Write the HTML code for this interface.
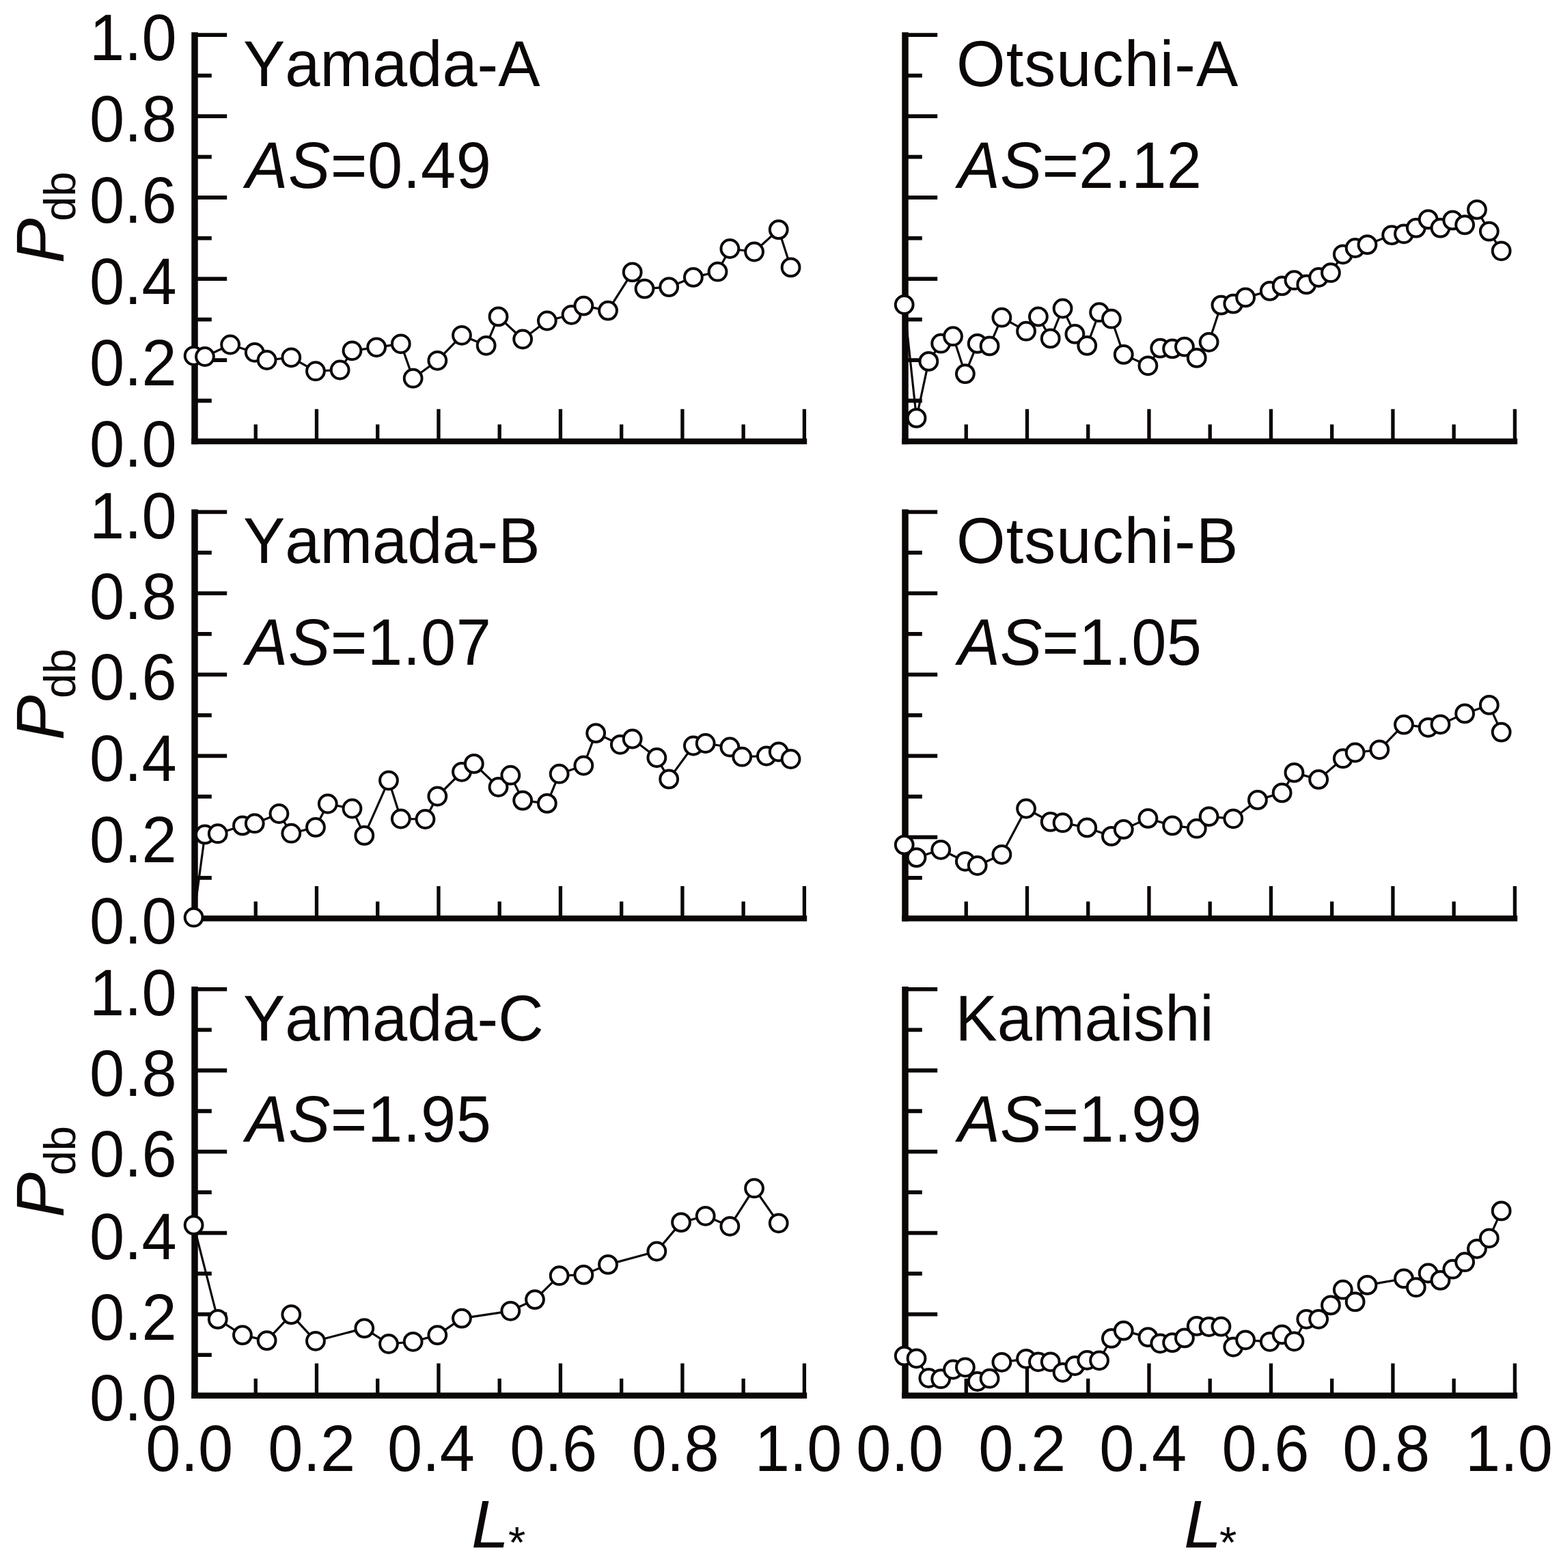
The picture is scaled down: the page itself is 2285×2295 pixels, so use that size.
<!DOCTYPE html>
<html lang="en"><head><meta charset="utf-8"><title>Pdb vs L*</title>
<style>html,body{margin:0;padding:0;background:#fff;width:2285px;height:2295px;overflow:hidden}svg{display:block;filter:blur(0.7px)}text{font-family:"Liberation Sans",sans-serif;fill:#0b0706;font-kerning:none;text-rendering:geometricPrecision}.t{font-size:92px}.i{font-style:italic}.s{font-size:65px}.ax{stroke:#0b0706;stroke-width:9.5;fill:none;stroke-linecap:butt;stroke-linejoin:miter}.ah{stroke-width:8.6}.tk{stroke:#0b0706;stroke-width:5.8;fill:none}.tx{stroke-width:5.3}.ln{stroke:#0b0706;stroke-width:3.2;fill:none;stroke-linejoin:round}.pt circle{fill:#fff;stroke:#0b0706;stroke-width:4.0}</style></head><body>
<svg width="2285" height="2295" viewBox="0 0 2285 2295">
<rect width="2285" height="2295" fill="#fff"/>
<g>
<path class="tk" d="M285 586.52h24.8M285 527.04h47.2M285 467.56h24.8M285 408.08h47.2M285 348.6h24.8M285 289.12h47.2M285 229.64h24.8M285 170.16h47.2M285 110.68h24.8M285 51.2h47.2"/>
<path class="tk tx" d="M374.24 646v-24.8M463.48 646v-47.2M552.72 646v-24.8M641.96 646v-47.2M731.2 646v-24.8M820.44 646v-47.2M909.68 646v-24.8M998.92 646v-47.2M1088.16 646v-24.8M1177.4 646v-47.2"/>
<path class="ax" d="M285 47.3V650.3"/><path class="ax ah" d="M280.25 646H1181.2"/>
<polyline class="ln" points="283.6,520.8 299.94,522 337.11,504.5 372.78,515.8 390.62,527 426.29,523.3 461.96,543.2 497.63,541.5 515.47,513.3 551.14,508.3 586.81,503.3 604.65,553.7 640.32,527.8 675.99,490.8 711.66,505.8 729.5,463.4 765.17,496.5 800.84,469.5 836.52,460.8 854.35,447.6 890.02,454.6 925.7,398.4 943.53,422.6 979.2,420.1 1014.88,405.9 1050.55,397.7 1068.38,364 1104.06,368.5 1139.73,336.1 1157.56,391.4"/>
<g class="pt"><circle cx="283.6" cy="520.8" r="12.9"/><circle cx="299.94" cy="522" r="12.9"/><circle cx="337.11" cy="504.5" r="12.9"/><circle cx="372.78" cy="515.8" r="12.9"/><circle cx="390.62" cy="527" r="12.9"/><circle cx="426.29" cy="523.3" r="12.9"/><circle cx="461.96" cy="543.2" r="12.9"/><circle cx="497.63" cy="541.5" r="12.9"/><circle cx="515.47" cy="513.3" r="12.9"/><circle cx="551.14" cy="508.3" r="12.9"/><circle cx="586.81" cy="503.3" r="12.9"/><circle cx="604.65" cy="553.7" r="12.9"/><circle cx="640.32" cy="527.8" r="12.9"/><circle cx="675.99" cy="490.8" r="12.9"/><circle cx="711.66" cy="505.8" r="12.9"/><circle cx="729.5" cy="463.4" r="12.9"/><circle cx="765.17" cy="496.5" r="12.9"/><circle cx="800.84" cy="469.5" r="12.9"/><circle cx="836.52" cy="460.8" r="12.9"/><circle cx="854.35" cy="447.6" r="12.9"/><circle cx="890.02" cy="454.6" r="12.9"/><circle cx="925.7" cy="398.4" r="12.9"/><circle cx="943.53" cy="422.6" r="12.9"/><circle cx="979.2" cy="420.1" r="12.9"/><circle cx="1014.88" cy="405.9" r="12.9"/><circle cx="1050.55" cy="397.7" r="12.9"/><circle cx="1068.38" cy="364" r="12.9"/><circle cx="1104.06" cy="368.5" r="12.9"/><circle cx="1139.73" cy="336.1" r="12.9"/><circle cx="1157.56" cy="391.4" r="12.9"/></g>
<text class="t" transform="matrix(1 0 0 1.03 355.9 126.1)">Yamada-A</text>
<text class="t" letter-spacing="0.55" transform="matrix(1 0 0 1.045 360 274.8)"><tspan class="i">AS</tspan>=0.49</text>
<text class="t" text-anchor="end" transform="matrix(1 0 0 1.045 258.8 682.5)">0.0</text>
<text class="t" text-anchor="end" transform="matrix(1 0 0 1.045 258.8 563.54)">0.2</text>
<text class="t" text-anchor="end" transform="matrix(1 0 0 1.045 258.8 444.58)">0.4</text>
<text class="t" text-anchor="end" transform="matrix(1 0 0 1.045 258.8 325.62)">0.6</text>
<text class="t" text-anchor="end" transform="matrix(1 0 0 1.045 258.8 206.66)">0.8</text>
<text class="t" text-anchor="end" transform="matrix(1 0 0 1.045 258.8 87.7)">1.0</text>
<text class="t" transform="translate(93 385.4) rotate(-90)"><tspan class="i" font-size="99">P</tspan><tspan class="s" dx="-4.4" dy="17">db</tspan></text>
</g>
<g>
<path class="tk" d="M1325 586.52h24.8M1325 527.04h47.2M1325 467.56h24.8M1325 408.08h47.2M1325 348.6h24.8M1325 289.12h47.2M1325 229.64h24.8M1325 170.16h47.2M1325 110.68h24.8M1325 51.2h47.2"/>
<path class="tk tx" d="M1414.24 646v-24.8M1503.48 646v-47.2M1592.72 646v-24.8M1681.96 646v-47.2M1771.2 646v-24.8M1860.44 646v-47.2M1949.68 646v-24.8M2038.92 646v-47.2M2128.16 646v-24.8M2217.4 646v-47.2"/>
<path class="ax" d="M1325 47.3V650.3"/><path class="ax ah" d="M1320.25 646H2221.2"/>
<polyline class="ln" points="1323.7,446 1341.54,611.9 1359.37,528.9 1377.21,502.7 1395.04,492.2 1412.88,547.1 1430.72,502.9 1448.55,506.4 1466.39,464.7 1502.06,484.7 1519.9,463.5 1537.73,495.4 1555.57,451.5 1573.4,488.9 1591.24,505.9 1609.08,457.2 1626.91,466.7 1644.75,518.9 1680.42,535.3 1698.26,509.6 1716.09,510.4 1733.93,507.6 1751.76,523.9 1769.6,500.8 1787.44,446.6 1805.27,444.6 1823.11,435.4 1858.78,425.9 1876.62,418.4 1894.45,410.2 1912.29,416.4 1930.12,406 1947.96,399.2 1965.8,372.3 1983.63,363 2001.47,358.1 2037.14,344.1 2054.98,342.3 2072.81,333.6 2090.65,321.1 2108.48,333.6 2126.32,322.4 2144.16,329.1 2161.99,306.9 2179.83,338.6 2197.66,367.3"/>
<g class="pt"><circle cx="1323.7" cy="446" r="12.9"/><circle cx="1341.54" cy="611.9" r="12.9"/><circle cx="1359.37" cy="528.9" r="12.9"/><circle cx="1377.21" cy="502.7" r="12.9"/><circle cx="1395.04" cy="492.2" r="12.9"/><circle cx="1412.88" cy="547.1" r="12.9"/><circle cx="1430.72" cy="502.9" r="12.9"/><circle cx="1448.55" cy="506.4" r="12.9"/><circle cx="1466.39" cy="464.7" r="12.9"/><circle cx="1502.06" cy="484.7" r="12.9"/><circle cx="1519.9" cy="463.5" r="12.9"/><circle cx="1537.73" cy="495.4" r="12.9"/><circle cx="1555.57" cy="451.5" r="12.9"/><circle cx="1573.4" cy="488.9" r="12.9"/><circle cx="1591.24" cy="505.9" r="12.9"/><circle cx="1609.08" cy="457.2" r="12.9"/><circle cx="1626.91" cy="466.7" r="12.9"/><circle cx="1644.75" cy="518.9" r="12.9"/><circle cx="1680.42" cy="535.3" r="12.9"/><circle cx="1698.26" cy="509.6" r="12.9"/><circle cx="1716.09" cy="510.4" r="12.9"/><circle cx="1733.93" cy="507.6" r="12.9"/><circle cx="1751.76" cy="523.9" r="12.9"/><circle cx="1769.6" cy="500.8" r="12.9"/><circle cx="1787.44" cy="446.6" r="12.9"/><circle cx="1805.27" cy="444.6" r="12.9"/><circle cx="1823.11" cy="435.4" r="12.9"/><circle cx="1858.78" cy="425.9" r="12.9"/><circle cx="1876.62" cy="418.4" r="12.9"/><circle cx="1894.45" cy="410.2" r="12.9"/><circle cx="1912.29" cy="416.4" r="12.9"/><circle cx="1930.12" cy="406" r="12.9"/><circle cx="1947.96" cy="399.2" r="12.9"/><circle cx="1965.8" cy="372.3" r="12.9"/><circle cx="1983.63" cy="363" r="12.9"/><circle cx="2001.47" cy="358.1" r="12.9"/><circle cx="2037.14" cy="344.1" r="12.9"/><circle cx="2054.98" cy="342.3" r="12.9"/><circle cx="2072.81" cy="333.6" r="12.9"/><circle cx="2090.65" cy="321.1" r="12.9"/><circle cx="2108.48" cy="333.6" r="12.9"/><circle cx="2126.32" cy="322.4" r="12.9"/><circle cx="2144.16" cy="329.1" r="12.9"/><circle cx="2161.99" cy="306.9" r="12.9"/><circle cx="2179.83" cy="338.6" r="12.9"/><circle cx="2197.66" cy="367.3" r="12.9"/></g>
<text class="t" letter-spacing="1.05" transform="matrix(1 0 0 1.03 1400.1 126.1)">Otsuchi-A</text>
<text class="t" letter-spacing="0.13" transform="matrix(1 0 0 1.045 1402.5 274.8)"><tspan class="i">AS</tspan>=2.12</text>
</g>
<g>
<path class="tk" d="M285 1284.81h24.8M285 1225.32h47.2M285 1165.83h24.8M285 1106.34h47.2M285 1046.85h24.8M285 987.36h47.2M285 927.87h24.8M285 868.38h47.2M285 808.89h24.8M285 749.4h47.2"/>
<path class="tk tx" d="M374.24 1344.3v-24.8M463.48 1344.3v-47.2M552.72 1344.3v-24.8M641.96 1344.3v-47.2M731.2 1344.3v-24.8M820.44 1344.3v-47.2M909.68 1344.3v-24.8M998.92 1344.3v-47.2M1088.16 1344.3v-24.8M1177.4 1344.3v-47.2"/>
<path class="ax" d="M285 745.5V1348.6"/><path class="ax ah" d="M280.25 1344.3H1181.2"/>
<polyline class="ln" points="283.6,1342.7 299.94,1221.4 318.77,1220.2 354.94,1208.4 372.78,1205.2 408.45,1191 426.29,1219.7 461.96,1210.9 479.8,1176.5 515.47,1183.5 533.3,1222.9 568.98,1142.3 586.81,1198.5 622.48,1199 640.32,1165.5 675.99,1129.8 693.83,1117.9 729.5,1152 747.34,1134.7 765.17,1171.6 800.84,1175.9 818.68,1132.7 854.35,1120.5 872.19,1073.1 907.86,1089.8 925.7,1081.5 961.37,1109 979.2,1140.4 1014.88,1091.5 1032.71,1088 1068.38,1093.5 1086.22,1107.7 1121.89,1106.5 1139.73,1100.5 1157.56,1111"/>
<g class="pt"><circle cx="283.6" cy="1342.7" r="12.9"/><circle cx="299.94" cy="1221.4" r="12.9"/><circle cx="318.77" cy="1220.2" r="12.9"/><circle cx="354.94" cy="1208.4" r="12.9"/><circle cx="372.78" cy="1205.2" r="12.9"/><circle cx="408.45" cy="1191" r="12.9"/><circle cx="426.29" cy="1219.7" r="12.9"/><circle cx="461.96" cy="1210.9" r="12.9"/><circle cx="479.8" cy="1176.5" r="12.9"/><circle cx="515.47" cy="1183.5" r="12.9"/><circle cx="533.3" cy="1222.9" r="12.9"/><circle cx="568.98" cy="1142.3" r="12.9"/><circle cx="586.81" cy="1198.5" r="12.9"/><circle cx="622.48" cy="1199" r="12.9"/><circle cx="640.32" cy="1165.5" r="12.9"/><circle cx="675.99" cy="1129.8" r="12.9"/><circle cx="693.83" cy="1117.9" r="12.9"/><circle cx="729.5" cy="1152" r="12.9"/><circle cx="747.34" cy="1134.7" r="12.9"/><circle cx="765.17" cy="1171.6" r="12.9"/><circle cx="800.84" cy="1175.9" r="12.9"/><circle cx="818.68" cy="1132.7" r="12.9"/><circle cx="854.35" cy="1120.5" r="12.9"/><circle cx="872.19" cy="1073.1" r="12.9"/><circle cx="907.86" cy="1089.8" r="12.9"/><circle cx="925.7" cy="1081.5" r="12.9"/><circle cx="961.37" cy="1109" r="12.9"/><circle cx="979.2" cy="1140.4" r="12.9"/><circle cx="1014.88" cy="1091.5" r="12.9"/><circle cx="1032.71" cy="1088" r="12.9"/><circle cx="1068.38" cy="1093.5" r="12.9"/><circle cx="1086.22" cy="1107.7" r="12.9"/><circle cx="1121.89" cy="1106.5" r="12.9"/><circle cx="1139.73" cy="1100.5" r="12.9"/><circle cx="1157.56" cy="1111" r="12.9"/></g>
<text class="t" transform="matrix(1 0 0 1.03 355.9 824.3)">Yamada-B</text>
<text class="t" letter-spacing="0.55" transform="matrix(1 0 0 1.045 360 973)"><tspan class="i">AS</tspan>=1.07</text>
<text class="t" text-anchor="end" transform="matrix(1 0 0 1.045 258.8 1380.8)">0.0</text>
<text class="t" text-anchor="end" transform="matrix(1 0 0 1.045 258.8 1261.82)">0.2</text>
<text class="t" text-anchor="end" transform="matrix(1 0 0 1.045 258.8 1142.84)">0.4</text>
<text class="t" text-anchor="end" transform="matrix(1 0 0 1.045 258.8 1024.46)">0.6</text>
<text class="t" text-anchor="end" transform="matrix(1 0 0 1.045 258.8 906.08)">0.8</text>
<text class="t" text-anchor="end" transform="matrix(1 0 0 1.045 258.8 787.7)">1.0</text>
<text class="t" transform="translate(93 1083.6) rotate(-90)"><tspan class="i" font-size="99">P</tspan><tspan class="s" dx="-4.4" dy="17">db</tspan></text>
</g>
<g>
<path class="tk" d="M1325 1284.81h24.8M1325 1225.32h47.2M1325 1165.83h24.8M1325 1106.34h47.2M1325 1046.85h24.8M1325 987.36h47.2M1325 927.87h24.8M1325 868.38h47.2M1325 808.89h24.8M1325 749.4h47.2"/>
<path class="tk tx" d="M1414.24 1344.3v-24.8M1503.48 1344.3v-47.2M1592.72 1344.3v-24.8M1681.96 1344.3v-47.2M1771.2 1344.3v-24.8M1860.44 1344.3v-47.2M1949.68 1344.3v-24.8M2038.92 1344.3v-47.2M2128.16 1344.3v-24.8M2217.4 1344.3v-47.2"/>
<path class="ax" d="M1325 745.5V1348.6"/><path class="ax ah" d="M1320.25 1344.3H2221.2"/>
<polyline class="ln" points="1323.7,1236.6 1341.54,1255.1 1377.21,1243.8 1412.88,1260.8 1430.72,1267 1466.39,1250.8 1502.06,1183.5 1537.73,1202.9 1555.57,1204.2 1591.24,1211.4 1626.91,1223.9 1644.75,1213.9 1680.42,1197.9 1716.09,1208.4 1751.76,1212.7 1769.6,1195.1 1805.27,1198.3 1840.94,1170.9 1876.62,1160.4 1894.45,1130.9 1930.12,1140.9 1965.8,1110.2 1983.63,1101.5 2019.3,1097.3 2054.98,1060.6 2090.65,1064.8 2108.48,1060.3 2144.16,1044.4 2179.83,1031.9 2197.66,1071.6"/>
<g class="pt"><circle cx="1323.7" cy="1236.6" r="12.9"/><circle cx="1341.54" cy="1255.1" r="12.9"/><circle cx="1377.21" cy="1243.8" r="12.9"/><circle cx="1412.88" cy="1260.8" r="12.9"/><circle cx="1430.72" cy="1267" r="12.9"/><circle cx="1466.39" cy="1250.8" r="12.9"/><circle cx="1502.06" cy="1183.5" r="12.9"/><circle cx="1537.73" cy="1202.9" r="12.9"/><circle cx="1555.57" cy="1204.2" r="12.9"/><circle cx="1591.24" cy="1211.4" r="12.9"/><circle cx="1626.91" cy="1223.9" r="12.9"/><circle cx="1644.75" cy="1213.9" r="12.9"/><circle cx="1680.42" cy="1197.9" r="12.9"/><circle cx="1716.09" cy="1208.4" r="12.9"/><circle cx="1751.76" cy="1212.7" r="12.9"/><circle cx="1769.6" cy="1195.1" r="12.9"/><circle cx="1805.27" cy="1198.3" r="12.9"/><circle cx="1840.94" cy="1170.9" r="12.9"/><circle cx="1876.62" cy="1160.4" r="12.9"/><circle cx="1894.45" cy="1130.9" r="12.9"/><circle cx="1930.12" cy="1140.9" r="12.9"/><circle cx="1965.8" cy="1110.2" r="12.9"/><circle cx="1983.63" cy="1101.5" r="12.9"/><circle cx="2019.3" cy="1097.3" r="12.9"/><circle cx="2054.98" cy="1060.6" r="12.9"/><circle cx="2090.65" cy="1064.8" r="12.9"/><circle cx="2108.48" cy="1060.3" r="12.9"/><circle cx="2144.16" cy="1044.4" r="12.9"/><circle cx="2179.83" cy="1031.9" r="12.9"/><circle cx="2197.66" cy="1071.6" r="12.9"/></g>
<text class="t" letter-spacing="1.05" transform="matrix(1 0 0 1.03 1400.1 824.3)">Otsuchi-B</text>
<text class="t" letter-spacing="0.13" transform="matrix(1 0 0 1.045 1402.5 973)"><tspan class="i">AS</tspan>=1.05</text>
</g>
<g>
<path class="tk" d="M285 1983.12h24.8M285 1923.64h47.2M285 1864.16h24.8M285 1804.68h47.2M285 1745.2h24.8M285 1685.72h47.2M285 1626.24h24.8M285 1566.76h47.2M285 1507.28h24.8M285 1447.8h47.2"/>
<path class="tk tx" d="M374.24 2042.6v-24.8M463.48 2042.6v-47.2M552.72 2042.6v-24.8M641.96 2042.6v-47.2M731.2 2042.6v-24.8M820.44 2042.6v-47.2M909.68 2042.6v-24.8M998.92 2042.6v-47.2M1088.16 2042.6v-24.8M1177.4 2042.6v-47.2"/>
<path class="ax" d="M285 1443.9V2046.9"/><path class="ax ah" d="M280.25 2042.6H1181.2"/>
<polyline class="ln" points="283.6,1793.1 318.77,1930.9 354.94,1954.1 390.62,1962.1 426.29,1924.1 461.96,1962.8 533.3,1944.1 568.98,1967 604.65,1963.8 640.32,1954.1 675.99,1929.6 747.34,1918.8 783.01,1902.1 818.68,1867.2 854.35,1865.9 890.02,1850.9 961.37,1831.5 997.04,1789.1 1032.71,1779.8 1068.38,1794.8 1104.06,1739.2 1139.73,1790.3"/>
<g class="pt"><circle cx="283.6" cy="1793.1" r="12.9"/><circle cx="318.77" cy="1930.9" r="12.9"/><circle cx="354.94" cy="1954.1" r="12.9"/><circle cx="390.62" cy="1962.1" r="12.9"/><circle cx="426.29" cy="1924.1" r="12.9"/><circle cx="461.96" cy="1962.8" r="12.9"/><circle cx="533.3" cy="1944.1" r="12.9"/><circle cx="568.98" cy="1967" r="12.9"/><circle cx="604.65" cy="1963.8" r="12.9"/><circle cx="640.32" cy="1954.1" r="12.9"/><circle cx="675.99" cy="1929.6" r="12.9"/><circle cx="747.34" cy="1918.8" r="12.9"/><circle cx="783.01" cy="1902.1" r="12.9"/><circle cx="818.68" cy="1867.2" r="12.9"/><circle cx="854.35" cy="1865.9" r="12.9"/><circle cx="890.02" cy="1850.9" r="12.9"/><circle cx="961.37" cy="1831.5" r="12.9"/><circle cx="997.04" cy="1789.1" r="12.9"/><circle cx="1032.71" cy="1779.8" r="12.9"/><circle cx="1068.38" cy="1794.8" r="12.9"/><circle cx="1104.06" cy="1739.2" r="12.9"/><circle cx="1139.73" cy="1790.3" r="12.9"/></g>
<text class="t" transform="matrix(1 0 0 1.03 355.9 1522.7)">Yamada-C</text>
<text class="t" letter-spacing="0.55" transform="matrix(1 0 0 1.045 360 1671.4)"><tspan class="i">AS</tspan>=1.95</text>
<text class="t" text-anchor="end" transform="matrix(1 0 0 1.045 258.8 2079.1)">0.0</text>
<text class="t" text-anchor="end" transform="matrix(1 0 0 1.045 258.8 1960.74)">0.2</text>
<text class="t" text-anchor="end" transform="matrix(1 0 0 1.045 258.8 1842.78)">0.4</text>
<text class="t" text-anchor="end" transform="matrix(1 0 0 1.045 258.8 1722.22)">0.6</text>
<text class="t" text-anchor="end" transform="matrix(1 0 0 1.045 258.8 1603.86)">0.8</text>
<text class="t" text-anchor="end" transform="matrix(1 0 0 1.045 258.8 1485.9)">1.0</text>
<text class="t" transform="translate(93 1782) rotate(-90)"><tspan class="i" font-size="99">P</tspan><tspan class="s" dx="-4.4" dy="17">db</tspan></text>
<text class="t" text-anchor="middle" transform="matrix(1 0 0 1.045 277.3 2152.6)">0.0</text>
<text class="t" text-anchor="middle" transform="matrix(1 0 0 1.045 456.18 2152.6)">0.2</text>
<text class="t" text-anchor="middle" transform="matrix(1 0 0 1.045 630.86 2152.6)">0.4</text>
<text class="t" text-anchor="middle" transform="matrix(1 0 0 1.045 810.14 2152.6)">0.6</text>
<text class="t" text-anchor="middle" transform="matrix(1 0 0 1.045 988.62 2152.6)">0.8</text>
<text class="t" text-anchor="middle" transform="matrix(1 0 0 1.045 1168.6 2152.6)">1.0</text>
<text class="t" transform="matrix(1 0 0 1 690 2265.3)"><tspan class="i" font-size="99">L</tspan><tspan class="s" dx="-1" dy="14.7">*</tspan></text>
</g>
<g>
<path class="tk" d="M1325 1983.12h24.8M1325 1923.64h47.2M1325 1864.16h24.8M1325 1804.68h47.2M1325 1745.2h24.8M1325 1685.72h47.2M1325 1626.24h24.8M1325 1566.76h47.2M1325 1507.28h24.8M1325 1447.8h47.2"/>
<path class="tk tx" d="M1414.24 2042.6v-24.8M1503.48 2042.6v-47.2M1592.72 2042.6v-24.8M1681.96 2042.6v-47.2M1771.2 2042.6v-24.8M1860.44 2042.6v-47.2M1949.68 2042.6v-24.8M2038.92 2042.6v-47.2M2128.16 2042.6v-24.8M2217.4 2042.6v-47.2"/>
<path class="ax" d="M1325 1443.9V2046.9"/><path class="ax ah" d="M1320.25 2042.6H2221.2"/>
<polyline class="ln" points="1323.7,1984.6 1341.54,1988.3 1359.37,2017 1377.21,2018.2 1395.04,2004.5 1412.88,2001.3 1430.72,2022 1448.55,2017.7 1466.39,1993.8 1502.06,1988.8 1519.9,1993.3 1537.73,1993.3 1555.57,2008.8 1573.4,1999 1591.24,1990.8 1609.08,1991.3 1626.91,1958.9 1644.75,1947.6 1680.42,1957.1 1698.26,1966.3 1716.09,1965.1 1733.93,1958.4 1751.76,1940.9 1769.6,1942 1787.44,1941.6 1805.27,1971.5 1823.11,1961.3 1858.78,1963.8 1876.62,1953.3 1894.45,1963.3 1912.29,1930.8 1930.12,1930.8 1947.96,1910.4 1965.8,1887.7 1983.63,1905.4 2001.47,1880.9 2054.98,1871.4 2072.81,1884.2 2090.65,1863.5 2108.48,1873.9 2126.32,1857.7 2144.16,1847.2 2161.99,1827.8 2179.83,1812.3 2197.66,1772.4"/>
<g class="pt"><circle cx="1323.7" cy="1984.6" r="12.9"/><circle cx="1341.54" cy="1988.3" r="12.9"/><circle cx="1359.37" cy="2017" r="12.9"/><circle cx="1377.21" cy="2018.2" r="12.9"/><circle cx="1395.04" cy="2004.5" r="12.9"/><circle cx="1412.88" cy="2001.3" r="12.9"/><circle cx="1430.72" cy="2022" r="12.9"/><circle cx="1448.55" cy="2017.7" r="12.9"/><circle cx="1466.39" cy="1993.8" r="12.9"/><circle cx="1502.06" cy="1988.8" r="12.9"/><circle cx="1519.9" cy="1993.3" r="12.9"/><circle cx="1537.73" cy="1993.3" r="12.9"/><circle cx="1555.57" cy="2008.8" r="12.9"/><circle cx="1573.4" cy="1999" r="12.9"/><circle cx="1591.24" cy="1990.8" r="12.9"/><circle cx="1609.08" cy="1991.3" r="12.9"/><circle cx="1626.91" cy="1958.9" r="12.9"/><circle cx="1644.75" cy="1947.6" r="12.9"/><circle cx="1680.42" cy="1957.1" r="12.9"/><circle cx="1698.26" cy="1966.3" r="12.9"/><circle cx="1716.09" cy="1965.1" r="12.9"/><circle cx="1733.93" cy="1958.4" r="12.9"/><circle cx="1751.76" cy="1940.9" r="12.9"/><circle cx="1769.6" cy="1942" r="12.9"/><circle cx="1787.44" cy="1941.6" r="12.9"/><circle cx="1805.27" cy="1971.5" r="12.9"/><circle cx="1823.11" cy="1961.3" r="12.9"/><circle cx="1858.78" cy="1963.8" r="12.9"/><circle cx="1876.62" cy="1953.3" r="12.9"/><circle cx="1894.45" cy="1963.3" r="12.9"/><circle cx="1912.29" cy="1930.8" r="12.9"/><circle cx="1930.12" cy="1930.8" r="12.9"/><circle cx="1947.96" cy="1910.4" r="12.9"/><circle cx="1965.8" cy="1887.7" r="12.9"/><circle cx="1983.63" cy="1905.4" r="12.9"/><circle cx="2001.47" cy="1880.9" r="12.9"/><circle cx="2054.98" cy="1871.4" r="12.9"/><circle cx="2072.81" cy="1884.2" r="12.9"/><circle cx="2090.65" cy="1863.5" r="12.9"/><circle cx="2108.48" cy="1873.9" r="12.9"/><circle cx="2126.32" cy="1857.7" r="12.9"/><circle cx="2144.16" cy="1847.2" r="12.9"/><circle cx="2161.99" cy="1827.8" r="12.9"/><circle cx="2179.83" cy="1812.3" r="12.9"/><circle cx="2197.66" cy="1772.4" r="12.9"/></g>
<text class="t" transform="matrix(1 0 0 1.03 1398.4 1522.7)">Kamaishi</text>
<text class="t" letter-spacing="0.13" transform="matrix(1 0 0 1.045 1402.5 1671.4)"><tspan class="i">AS</tspan>=1.99</text>
<text class="t" text-anchor="middle" transform="matrix(1 0 0 1.045 1317.3 2152.6)">0.0</text>
<text class="t" text-anchor="middle" transform="matrix(1 0 0 1.045 1496.18 2152.6)">0.2</text>
<text class="t" text-anchor="middle" transform="matrix(1 0 0 1.045 1673.26 2152.6)">0.4</text>
<text class="t" text-anchor="middle" transform="matrix(1 0 0 1.045 1852.44 2152.6)">0.6</text>
<text class="t" text-anchor="middle" transform="matrix(1 0 0 1.045 2029.22 2152.6)">0.8</text>
<text class="t" text-anchor="middle" transform="matrix(1 0 0 1.045 2209 2152.6)">1.0</text>
<text class="t" transform="matrix(1 0 0 1 1733 2265.3)"><tspan class="i" font-size="99">L</tspan><tspan class="s" dx="-3" dy="14.7">*</tspan></text>
</g>
</svg></body></html>
